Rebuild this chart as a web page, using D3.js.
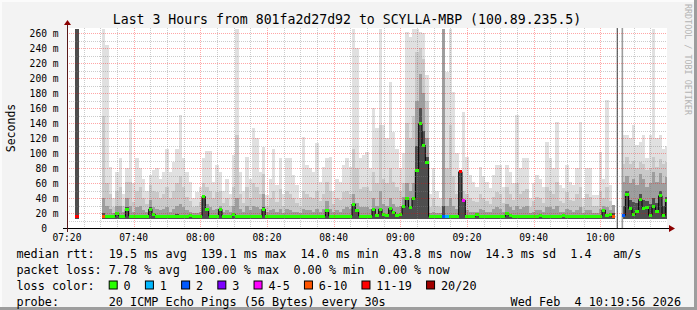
<!DOCTYPE html>
<html>
<head>
<meta charset="utf-8">
<script src="https://cdn.jsdelivr.net/npm/d3@7"></script>
<style>
  html, body { margin: 0; padding: 0; background: #f3f3f3; }
  svg { display: block; }
  text { font-family: "DejaVu Sans Mono", monospace; white-space: pre; }
</style>
</head>
<body>
<svg id="chart" width="697" height="310"></svg>
<script>
// ---- data (minutes after 07:20, one sample column per minute) ----
const firstMinute = 3;
const smokeTop = [266, null, null, null, null, null, null, null,
  266,244,82,40,75,93,45,80,145,60, 93,80,66,50,71,77,80,66,75,106,
  75,88,106,151,93,75,62,40,48,55, 93,103,103,62,84,75,50,66,45,97,
  266,75,50,95,66,133,120,75,108,44, 66,106,57,93,45,93,93,71,57,40,
  122,84,80,75,113,62,82,93,95,50, 66,62,84,93,82,266,240,93,97,102,
  80,160,133,266,137,120,195,128,106,80, 100,262,255,266,266,262,260,204,45,80,
  50,40,266,208,266,182,100,75,155,95, 71,62,55,82,70,62,53,71,84,84,
  55,84,75,60,151,80,93,93,40,60, 71,66,55,115,93,80,142,57,53,84,
  62,57,80,142,40,80,80,44,44,102, 66,171,57,31,null,null,124,124,120,137,
  111,115,124,93,124,266,120,124,106,110];
const smokeUpper = [266, null, null, null, null, null, null, null,
  149,60,45,28,50,55,30,62,62,35, 50,55,40,32,58,50,48,40,45,55,
  40,50,60,70,55,42,36,28,30,35, 60,55,50,40,48,50,34,40,30,55,
  124,45,34,55,40,60,55,45,72,30, 40,50,35,52,30,50,45,40,34,28,
  50,45,42,40,50,36,45,62,50,32, 40,38,48,50,46,106,80,52,55,55,
  50,75,60,137,65,60,80,62,55,50, 60,140,120,150,235,240,225,170,28,40,
  30,28,266,80,137,70,45,75,50,45, 40,36,35,45,40,36,32,42,48,45,
  34,55,45,38,60,45,50,52,28,36, 42,40,34,55,50,45,62,36,34,48,
  38,36,45,55,28,45,42,30,30,50, 40,55,36,31,null,null,85,95,85,90,
  80,88,85,78,80,95,82,92,85,88];
const smokeLower = [266, null, null, null, null, null, null, null,
  40,30,25,20,30,30,22,40,30,22, 28,30,24,22,38,28,26,24,25,28,
  22,26,30,32,28,24,22,20,20,22, 44,32,28,24,26,30,22,24,22,30,
  40,25,22,30,24,30,28,25,45,22, 24,26,22,26,20,26,24,22,22,20,
  26,24,24,22,26,22,26,36,26,22, 24,22,26,28,26,45,34,28,28,28,
  26,40,30,50,32,30,40,32,28,30, 42,60,50,60,170,205,180,120,20,22,
  20,20,266,30,40,30,25,75,37,24, 22,22,22,26,24,22,22,26,28,26,
  22,32,28,24,30,26,28,30,20,22, 24,24,22,28,28,26,30,22,22,26,
  24,22,24,28,20,24,24,20,20,26, 30,28,24,31,null,null,62,70,60,65,
  58,72,66,55,60,75,62,74,60,68];
const smokeCore = [266, null, null, null, null, null, null, null,
  20,18,17,17,22,18,17,28,18,17, 18,18,17,17,28,20,18,17,18,18,
  17,18,19,18,18,17,18,17,17,17, 40,27,18,17,18,27,17,17,17,20,
  18,17,17,18,17,18,18,17,28,18, 17,18,17,18,17,18,18,17,17,17,
  18,17,17,18,17,17,18,26,18,17, 17,18,17,18,18,34,25,18,18,18,
  18,27,19,27,20,19,28,23,19,20, 31,41,30,42,110,160,130,95,17,17,
  17,17,30,18,18,18,17,75,37,17, 17,17,20,18,17,17,17,18,18,17,
  17,21,19,17,17,18,18,18,17,17, 18,19,17,18,18,18,18,17,19,18,
  18,18,17,17,17,18,17,17,17,18, 26,19,20,20,null,null,30,50,38,35,
  34,45,38,36,32,40,34,50,30,42];
const medianRtt = [16, null, null, null, null, null, null, null,
  16,15.5,15,15.5,20,16,15.5,25,16,15.5, 15.5,16,15.5,16,25,18,15.5,15.5,16,15.5,
  15,15.5,16,15.5,16,15.5,17,15.5,15.5,16, 42,25,16,15.5,16,25,16,15.5,15.5,18,
  16,15.5,15.5,16,15.5,15.5,16,15.5,25,16, 15.5,16,15.5,16,15.5,16,16,15.5,15.5,15.5,
  16,15.5,15.5,16,15.5,15.5,16,24,16,15.5, 15.5,16,15.5,16,16,32,23,16,16,16,
  16,25,17,25,18,17,26,21,17,18, 29,39,28,40,77,139,110,88,15.5,15,
  15,15.5,16,15.5,16,16,16,75,37,15, 15.5,15.5,18,16,15.5,15.5,15.5,16,16,15.5,
  15.5,19,17,15.5,15.5,16,16,16,15.5,15.5, 16,17,15.5,16,16,16,16,15.5,17,16,
  16,16,15.5,15.5,15,16,15.5,15.5,15,16, 24,17,18,15,null,null,17,45,26,18,
  22,38,26,28,17,29,22,43,17,37];
const smokeFloor = 12.5;
// [minute, lost pings out of 20]; all other samples lost 0
const lossEvents = [[3, 15], [11, 8], [113, 2], [114, 1], [118, 15], [119, 5], [164, 8], [167, 2]];
const lostSampleMinutes = [165.1, 166.6];

const xTickMinutes = [0, 20, 40, 60, 80, 100, 120, 140, 160];
const xTickLabels = ["07:20", "07:40", "08:00", "08:20", "08:40", "09:00", "09:20", "09:40", "10:00"];
const yTicks = [0, 20, 40, 60, 80, 100, 120, 140, 160, 180, 200, 220, 240, 260];

const lossLevels = ["0", "1", "2", "3", "4-5", "6-10", "11-19", "20/20"];
const lossColors = ["#26ff00", "#00b8ff", "#0059ff", "#7e00ff", "#ff00ff", "#ff5500", "#ff0000", "#a10000"];

const titleText = "Last 3 Hours from 801fa2d27d92 to SCYLLA-MBP (100.89.235.5)";
const rttLine = "median rtt:  19.5 ms avg  139.1 ms max  14.0 ms min  43.8 ms now  14.3 ms sd  1.4   am/s";
const lossLine = "packet loss: 7.78 % avg  100.00 % max  0.00 % min  0.00 % now";
const probeLine = "probe:       20 ICMP Echo Pings (56 Bytes) every 30s";
const stampText = "Wed Feb  4 10:19:56 2026";

// ---- layout ----
const svg = d3.select("#chart");
const W = 697, H = 310;
const plot = { left: 67, right: 667, top: 28, bottom: 228 };

const x = d3.scaleLinear().domain([0, 180]).range([plot.left, plot.right]);
const y = d3.scaleLinear().domain([0, 266.67]).range([plot.bottom, plot.top]);

function lossBucket(n) {
  if (n <= 3) return n;
  if (n <= 5) return 4;
  if (n <= 10) return 5;
  if (n <= 19) return 6;
  return 7;
}
const lossByMinute = new Map(lossEvents);

const samples = medianRtt.map((m, i) => ({
  minute: firstMinute + i,
  top: smokeTop[i], upper: smokeUpper[i], lower: smokeLower[i], core: smokeCore[i],
  median: m,
  loss: lossByMinute.get(firstMinute + i) || 0
}));
const valid = samples.filter(d => d.median !== null);

// canvas + frame
svg.append("rect").attr("width", W).attr("height", H).attr("fill", "#f3f3f3");
svg.append("rect").attr("x", 0).attr("y", 0).attr("width", W).attr("height", 2).attr("fill", "#fbfbfb");
svg.append("rect").attr("x", 0).attr("y", 0).attr("width", 2).attr("height", H).attr("fill", "#fbfbfb");
svg.append("rect").attr("x", W - 3).attr("y", 0).attr("width", 3).attr("height", H).attr("fill", "#9d9d9d");
svg.append("rect").attr("x", 0).attr("y", H - 3).attr("width", W).attr("height", 3).attr("fill", "#9d9d9d");

svg.append("rect")
  .attr("x", plot.left).attr("y", plot.top)
  .attr("width", plot.right - plot.left).attr("height", plot.bottom - plot.top)
  .attr("fill", "#ffffff");

svg.append("clipPath").attr("id", "plot-clip").append("rect")
  .attr("x", plot.left).attr("y", plot.top)
  .attr("width", plot.right - plot.left).attr("height", plot.bottom - plot.top);

const graph = svg.append("g").attr("clip-path", "url(#plot-clip)");

// smoke bands, light to dark
const bands = [
  { key: "top", color: "#e0e0e0" },
  { key: "upper", color: "#c9c9c9" },
  { key: "lower", color: "#9e9e9e" },
  { key: "core", color: "#4e4e4e" }
];
bands.forEach(b => {
  graph.append("g").attr("shape-rendering", "crispEdges")
    .selectAll("rect")
    .data(valid)
    .join("rect")
    .attr("x", d => x(d.minute - 0.5))
    .attr("width", d => x(d.minute + 0.5) - x(d.minute - 0.5))
    .attr("y", d => y(d[b.key]))
    .attr("height", d => Math.max(0, y(smokeFloor) - y(d[b.key])))
    .attr("fill", b.color);
});

// samples where every ping went missing
graph.selectAll("line.lost")
  .data(lostSampleMinutes)
  .join("line")
  .attr("class", "lost")
  .attr("x1", d => x(d)).attr("x2", d => x(d))
  .attr("y1", plot.top).attr("y2", plot.bottom)
  .attr("stroke", (d, i) => i === 0 ? "#5e5e5e" : "#9c9c9c")
  .attr("stroke-width", (d, i) => i === 0 ? 1.3 : 1.6);

// median connector
const stepPts = [];
samples.forEach(d => {
  stepPts.push({ x: x(d.minute - 0.5), v: d.median });
  stepPts.push({ x: x(d.minute + 0.5), v: d.median });
});
graph.append("path")
  .datum(stepPts)
  .attr("fill", "none")
  .attr("stroke", "#000")
  .attr("stroke-width", 1)
  .attr("d", d3.line().defined(d => d.v !== null).x(d => d.x).y(d => y(d.v)));

// median marks colored by loss
graph.append("g").attr("shape-rendering", "crispEdges")
  .selectAll("rect")
  .data(valid)
  .join("rect")
  .attr("x", d => x(d.minute - 0.5))
  .attr("width", d => x(d.minute + 0.5) - x(d.minute - 0.5))
  .attr("y", d => y(d.median) - 1.5)
  .attr("height", 3)
  .attr("fill", d => lossColors[lossBucket(d.loss)]);

// grid (drawn over the graph, like rrdtool)
const grid = svg.append("g").attr("shape-rendering", "crispEdges");
const minorMin = d3.range(5, 180, 5).filter(m => m % 20 !== 0);
const majorMin = xTickMinutes.filter(m => m > 0);
grid.selectAll("line.vminor").data(minorMin).join("line")
  .attr("x1", d => Math.round(x(d)) + 0.5).attr("x2", d => Math.round(x(d)) + 0.5)
  .attr("y1", plot.top).attr("y2", plot.bottom)
  .attr("stroke", "rgba(128,128,128,0.4)").attr("stroke-dasharray", "1,1");
grid.selectAll("line.vmajor").data(majorMin).join("line")
  .attr("x1", d => Math.round(x(d)) + 0.5).attr("x2", d => Math.round(x(d)) + 0.5)
  .attr("y1", plot.top).attr("y2", plot.bottom)
  .attr("stroke", "rgba(255,0,0,0.35)").attr("stroke-dasharray", "1,1");
const hMinor = d3.range(10, 270, 20);
grid.selectAll("line.hminor").data(hMinor).join("line")
  .attr("x1", plot.left).attr("x2", plot.right)
  .attr("y1", d => Math.round(y(d)) + 0.5).attr("y2", d => Math.round(y(d)) + 0.5)
  .attr("stroke", "rgba(128,128,128,0.4)").attr("stroke-dasharray", "1,1");
grid.selectAll("line.hmajor").data(yTicks.filter(v => v > 0)).join("line")
  .attr("x1", plot.left).attr("x2", plot.right)
  .attr("y1", d => Math.round(y(d)) + 0.5).attr("y2", d => Math.round(y(d)) + 0.5)
  .attr("stroke", "rgba(255,0,0,0.35)").attr("stroke-dasharray", "1,1");

// axes
svg.append("line")
  .attr("x1", plot.left - 4).attr("x2", plot.right + 2)
  .attr("y1", plot.bottom + 0.5).attr("y2", plot.bottom + 0.5)
  .attr("stroke", "#000");
svg.append("line")
  .attr("x1", plot.left + 0.5).attr("x2", plot.left + 0.5)
  .attr("y1", plot.bottom + 4).attr("y2", plot.top - 4)
  .attr("stroke", "#5a1a1a");
svg.append("path")
  .attr("d", `M${plot.right + 2},${plot.bottom - 3} L${plot.right + 8},${plot.bottom + 0.5} L${plot.right + 2},${plot.bottom + 4} Z`)
  .attr("fill", "#8b0000");
svg.append("path")
  .attr("d", `M${plot.left - 3},${plot.top - 3} L${plot.left + 0.5},${plot.top - 8} L${plot.left + 4},${plot.top - 3} Z`)
  .attr("fill", "#8b0000");

// tick labels
svg.append("g").selectAll("text")
  .data(yTicks)
  .join("text")
  .attr("x", 58.5)
  .attr("y", d => y(d) + 3.5)
  .attr("text-anchor", "end")
  .attr("font-size", "9.6px")
  .attr("fill", "#000")
  .text(d => d === 0 ? "0  " : d + " m");

svg.append("g").selectAll("text")
  .data(xTickMinutes)
  .join("text")
  .attr("x", d => x(d))
  .attr("y", 240.5)
  .attr("text-anchor", "middle")
  .attr("font-size", "9.6px")
  .attr("fill", "#000")
  .text((d, i) => xTickLabels[i]);

// titles
svg.append("text")
  .attr("x", 347).attr("y", 24)
  .attr("text-anchor", "middle")
  .attr("font-size", "13.2px")
  .text(titleText);

svg.append("text")
  .attr("transform", `translate(15, ${(plot.top + plot.bottom) / 2}) rotate(-90)`)
  .attr("text-anchor", "middle")
  .attr("font-size", "11.5px")
  .text("Seconds");

svg.append("text")
  .attr("transform", "translate(685, 4) rotate(90)")
  .attr("font-size", "8.4px")
  .attr("fill", "#b3b3b3")
  .text("RRDTOOL / TOBI OETIKER");

// legend
const lx = 16.4, cw = 7.1, legendSize = "11.8px";
const rows = [257.5, 273.5, 289.5, 305.5];
svg.append("text").attr("x", lx).attr("y", rows[0]).attr("font-size", legendSize).text(rttLine);
svg.append("text").attr("x", lx).attr("y", rows[1]).attr("font-size", legendSize).text(lossLine);
svg.append("text").attr("x", lx).attr("y", rows[2]).attr("font-size", legendSize).text("loss color:");
svg.append("text").attr("x", lx).attr("y", rows[3]).attr("font-size", legendSize).text(probeLine);
svg.append("text").attr("x", 681).attr("y", rows[3]).attr("text-anchor", "end")
  .attr("font-size", legendSize).text(stampText);

let n = 13;
lossLevels.forEach((lab, i) => {
  svg.append("rect")
    .attr("x", lx + n * cw + 0.5).attr("y", rows[2] - 8.5)
    .attr("width", 8).attr("height", 8)
    .attr("fill", lossColors[i]).attr("stroke", "#000").attr("stroke-width", 1);
  svg.append("text")
    .attr("x", lx + (n + 2.1) * cw).attr("y", rows[2])
    .attr("font-size", legendSize).text(lab);
  n = n + 2.1 + lab.length + 2;
});
</script>
</body>
</html>
